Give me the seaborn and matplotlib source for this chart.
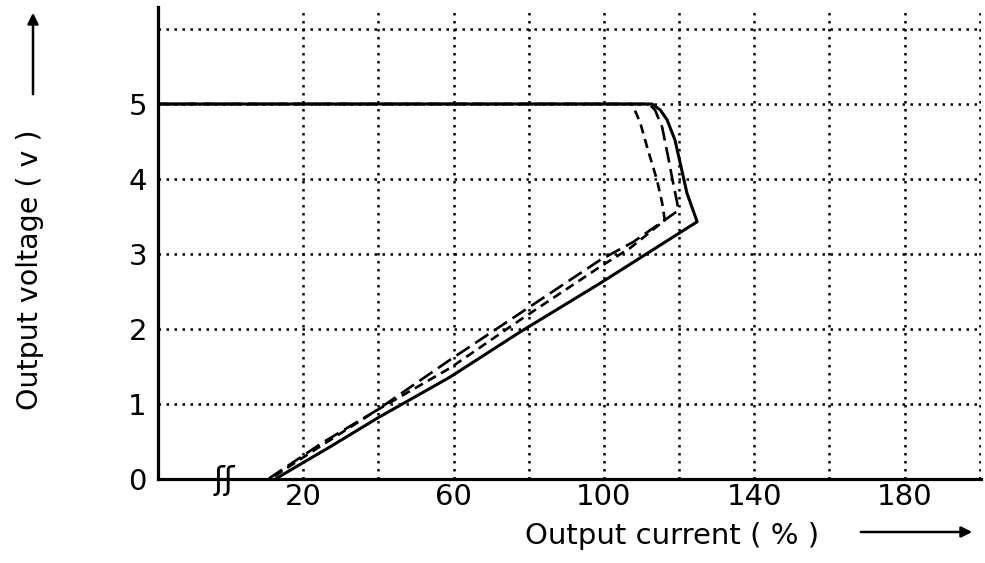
import matplotlib
matplotlib.use("Agg")
import matplotlib.pyplot as plt
import seaborn as sns
import pandas as pd

# ---- data ----
solid_x = [-18.6, 112.8, 115.0, 116.8, 118.9, 120.3, 122.1, 124.8, 99.0, 77.7, 59.1, 39.7, 27.2, 12.6]
solid_y = [5.0, 5.0, 4.92, 4.79, 4.52, 4.21, 3.81, 3.43, 2.61, 1.96, 1.36, 0.81, 0.43, 0.0]

dashA_x = [-18.6, 107.5, 109.6, 111.7, 114.1, 115.5, 116.2, 107.0, 99.0, 77.7, 59.1, 39.7, 25.0, 11.2]
dashA_y = [5.0, 5.0, 4.76, 4.39, 3.99, 3.68, 3.45, 3.08, 2.83, 2.12, 1.48, 0.92, 0.45, 0.0]

dashB_x = [-18.6, 112.0, 113.6, 115.5, 117.1, 118.4, 119.5, 119.8, 107.8, 99.0, 77.7, 59.1, 39.7, 25.0, 10.7]
dashB_y = [5.0, 5.0, 4.92, 4.69, 4.29, 3.95, 3.68, 3.58, 3.16, 2.92, 2.21, 1.59, 0.92, 0.48, 0.0]

x_grid = [20, 40, 60, 80, 100, 120, 140, 160, 180, 200]
x_labels = ["20", "", "60", "", "100", "", "140", "", "180", ""]
y_grid = [0, 1, 2, 3, 4, 5, 6]
y_labels = ["0", "1", "2", "3", "4", "5", ""]

xlabel = "Output current ( % )"
ylabel = "Output voltage ( v )"

# ---- style ----
sns.set_theme(style="white")
plt.rcParams["font.family"] = ["DejaVu Sans"]
plt.rcParams["text.color"] = "black"

fig = plt.figure(figsize=(9.85, 5.63), dpi=100)
ax = fig.add_axes([158 / 985, 84 / 563, 823 / 985, 472.5 / 563])
ax.set_xlim(-18.6, 200.3)
ax.set_ylim(0, 6.3)

df_s = pd.DataFrame({"x": solid_x, "y": solid_y})
df_a = pd.DataFrame({"x": dashA_x, "y": dashA_y})
df_b = pd.DataFrame({"x": dashB_x, "y": dashB_y})

sns.lineplot(data=df_a, x="x", y="y", ax=ax, sort=False, estimator=None,
             color="black", linewidth=1.9, linestyle=(0, (3.5, 2.2)), zorder=3)
sns.lineplot(data=df_b, x="x", y="y", ax=ax, sort=False, estimator=None,
             color="black", linewidth=1.9, linestyle=(0, (6, 2.5)), zorder=3)
sns.lineplot(data=df_s, x="x", y="y", ax=ax, sort=False, estimator=None,
             color="black", linewidth=2.2, zorder=4)

ax.set_xticks(x_grid)
ax.set_xticklabels(x_labels)
ax.set_yticks(y_grid)
ax.set_yticklabels(y_labels)
ax.tick_params(axis="both", length=0, labelsize=21, colors="black")
ax.tick_params(axis="x", pad=3)
ax.tick_params(axis="y", pad=8)
ax.grid(True, color="black", linestyle=(0, (1, 2.2)), linewidth=1.8)
ax.set_axisbelow(True)
ax.set_xlabel("")
ax.set_ylabel("")

for s in ["top", "right"]:
    ax.spines[s].set_visible(False)
for s in ["left", "bottom"]:
    ax.spines[s].set_color("black")
    ax.spines[s].set_linewidth(2.3)
    ax.spines[s].set_zorder(5)

# axis break mark
ax.text(-1.0, -0.02, "ʃʃ", fontsize=23, ha="center", va="center",
        color="black", zorder=6)

# axis titles
fig.text(672 / 985, 1 - 536 / 563, xlabel, fontsize=21, ha="center",
         va="center", color="black")
fig.text(30 / 985, 1 - 270 / 563, ylabel, fontsize=20.5, rotation=90,
         ha="center", va="center", color="black")

# arrows
ax.annotate("", xy=(975, 563 - 532), xycoords="figure pixels",
            xytext=(858, 563 - 532), textcoords="figure pixels",
            arrowprops=dict(arrowstyle="-|>", color="black", lw=1.8,
                            mutation_scale=16))
ax.annotate("", xy=(33, 563 - 10), xycoords="figure pixels",
            xytext=(33, 563 - 97), textcoords="figure pixels",
            arrowprops=dict(arrowstyle="-|>", color="black", lw=1.8,
                            mutation_scale=16))

fig.savefig("out.png", dpi=100)
